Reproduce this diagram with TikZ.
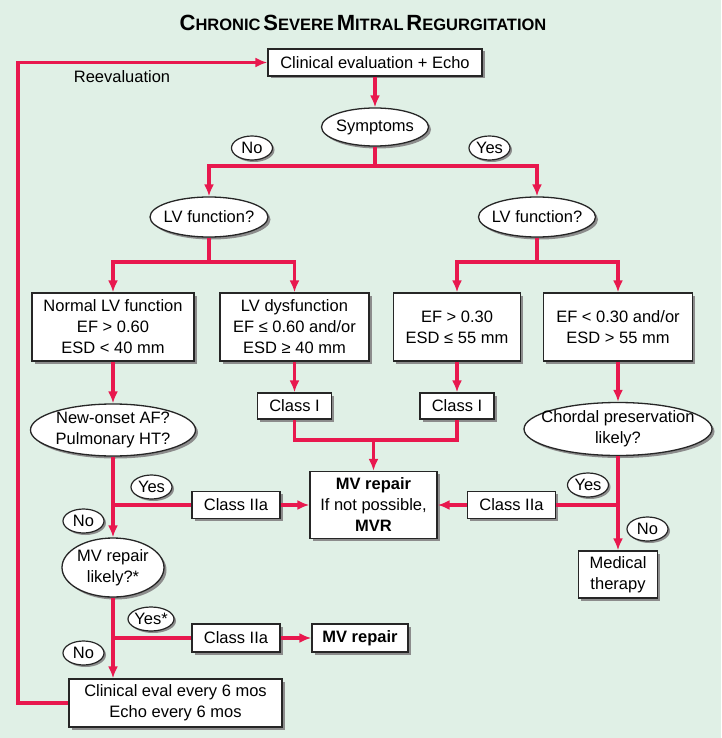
\documentclass[tikz,border=0pt]{standalone}
\usepackage{fontspec}
\setmainfont{Liberation Sans}
\usetikzlibrary{shapes.geometric,arrows.meta,shadows}
\definecolor{bggreen}{RGB}{224,240,230}
\definecolor{flowred}{RGB}{232,24,78}
\newcommand{\titlecap}[2]{{\fontsize{22}{22}\selectfont #1}{\fontsize{16.5}{16.5}\selectfont #2}}

\begin{document}
\begin{tikzpicture}[x=1pt, y=-1pt,
    % Define styles
    box/.style={rectangle, draw=black!85, fill=white, line width=1.3pt, align=center, inner sep=2pt, drop shadow={shadow xshift=2.5pt, shadow yshift=-2.5pt, fill=black!45, opacity=1}},
    decision/.style={ellipse, draw=black!85, fill=white, line width=1.3pt, align=center, inner xsep=-40pt, inner ysep=-20pt, drop shadow={shadow xshift=2.5pt, shadow yshift=-2.5pt, fill=black!45, opacity=1}},
    answer/.style={ellipse, draw=black!85, fill=white, line width=1.2pt, inner xsep=-20pt, inner ysep=-20pt, minimum width=41, minimum height=24, drop shadow={shadow xshift=2pt, shadow yshift=-2pt, fill=black!45, opacity=1}},
    link/.style={flowred, line width=3.2pt},
    arrow/.style={link, -{Latex[length=12pt,width=10pt]}},
    font=\fontsize{16.5}{21}\selectfont
]

% Background
\fill[bggreen] (0,0) rectangle (721,738);
\useasboundingbox (0,0) rectangle (721,738);

% Title
\node[font=\bfseries] (title) at (363,23) {\titlecap{C}{HRONIC} \titlecap{S}{EVERE} \titlecap{M}{ITRAL} \titlecap{R}{EGURGITATION}};
\node (reeval) at (122,77) {Reevaluation};

% Top of the tree
\node[box, minimum width=214, minimum height=27] (eval) at (375,62.5) {Clinical evaluation + Echo};
\node[decision, minimum width=107, minimum height=38] (symp) at (375,127) {Symptoms};
\node[answer] (noA) at (252,148) {No};
\node[answer] (yesA) at (489.5,148) {Yes};
\node[decision, minimum width=118, minimum height=40] (lvL) at (209,217) {LV function?};
\node[decision, minimum width=117, minimum height=40] (lvR) at (537,217) {LV function?};

% LV function boxes
\node[box, minimum width=162, minimum height=68] (normal) at (113,327) {Normal LV function\\EF > 0.60\\ESD < 40 mm};
\node[box, minimum width=149, minimum height=68] (dysf) at (294.5,327) {LV dysfunction\\EF ≤ 0.60 and/or\\ESD ≥ 40 mm};
\node[box, minimum width=127, minimum height=68] (efA) at (457,327) {EF > 0.30\\ESD ≤ 55 mm};
\node[box, minimum width=149, minimum height=68] (efB) at (618,327) {EF < 0.30 and/or\\ESD > 55 mm};

% Class I and decisions
\node[box, minimum width=74, minimum height=26] (classIa) at (294.5,406) {Class I};
\node[box, minimum width=74, minimum height=26] (classIb) at (457,406) {Class I};
\node[decision, minimum width=165, minimum height=52] (onset) at (113,430) {New-onset AF?\\Pulmonary HT?};
\node[decision, minimum width=188, minimum height=53] (chordal) at (618,429) {Chordal preservation\\likely?};

% Surgery row
\node[box, minimum width=127, minimum height=67] (mvr) at (373.5,505) {\textbf{MV repair}\\If not possible,\\\textbf{MVR}};
\node[box, minimum width=88, minimum height=27] (c2a) at (236,505) {Class IIa};
\node[box, minimum width=88, minimum height=27] (c2c) at (511.5,505) {Class IIa};
\node[answer] (yesB) at (151.5,487) {Yes};
\node[answer] (noB) at (83.5,521) {No};
\node[answer] (yesC) at (588,485) {Yes};
\node[answer] (noC) at (647.5,529) {No};
\node[box, minimum width=79, minimum height=47] (med) at (618,574.5) {Medical\\therapy};

% Lower left
\node[decision, minimum width=102, minimum height=59] (likely) at (113,567.5) {MV repair\\likely?*};
\node[answer, minimum width=46] (yesD) at (151,619) {Yes*};
\node[box, minimum width=88, minimum height=28] (c2b) at (236,638) {Class IIa};
\node[box, minimum width=96, minimum height=28] (mvrep) at (360,638) {\textbf{MV repair}};
\node[answer] (noD) at (83.5,653) {No};
\node[box, minimum width=213, minimum height=48] (follow) at (175.5,703) {Clinical eval every 6 mos\\Echo every 6 mos};

% Branch points
\coordinate (brA) at (375,166);
\coordinate (brB) at (209,262);
\coordinate (brC) at (537,262);
\coordinate (brD) at (373.5,440);
\coordinate (brE) at (113,505);
\coordinate (brF) at (113,638);
\coordinate (brG) at (618,505);
\coordinate (fbA) at (18,62.5);

% Connections
\draw[arrow] (eval) -- (symp);
\draw[arrow] (symp.south) -- (brA) -| (lvL.north);
\draw[arrow] (brA) -| (lvR.north);

\draw[arrow] (lvL.south) -- (brB) -| (normal.north);
\draw[arrow] (brB) -| (dysf.north);
\draw[arrow] (lvR.south) -- (brC) -| (efA.north);
\draw[arrow] (brC) -| (efB.north);

\draw[arrow] (normal) -- (onset);
\draw[arrow] (dysf) -- (classIa);
\draw[arrow] (efA) -- (classIb);
\draw[arrow] (efB) -- (chordal);

% Class I into surgery
\draw[link] (classIa.south) |- (brD);
\draw[link] (classIb.south) |- (brD);
\draw[arrow] (brD) -- (mvr.north);

% Left column
\draw[link] (onset.south) -- (brE) -- (c2a.west);
\draw[arrow] (brE) -- (likely.north);
\draw[arrow] (c2a) -- (mvr);
\draw[link] (likely.south) -- (brF) -- (c2b.west);
\draw[arrow] (brF) -- (brF |- follow.north);
\draw[arrow] (c2b) -- (mvrep);

% Right column
\draw[arrow] (chordal.south) -- (med.north);
\draw[link] (brG) -- (c2c.east);
\draw[arrow] (c2c) -- (mvr);

% Feedback loop
\draw[arrow] (follow.west) -| (fbA) -- (eval.west);

\end{tikzpicture}
\end{document}
